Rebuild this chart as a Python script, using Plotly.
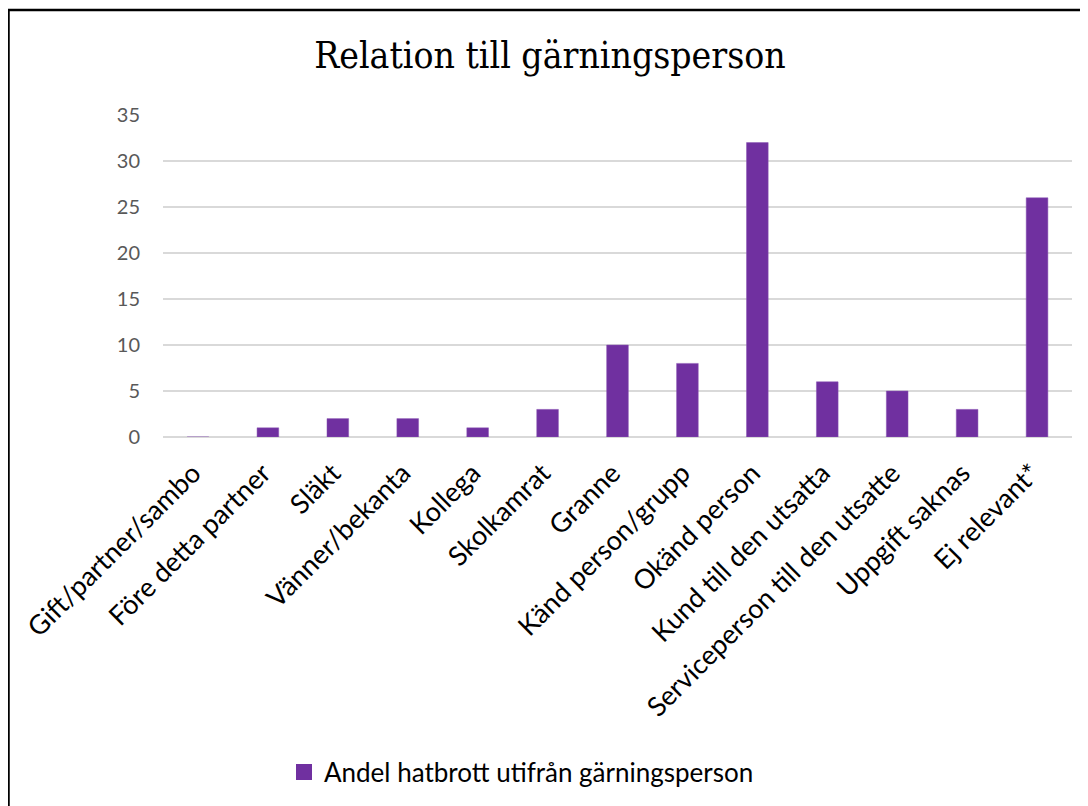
import plotly.graph_objects as go

categories = ["Gift/partner/sambo", "Före detta partner", "Släkt", "Vänner/bekanta",
              "Kollega", "Skolkamrat", "Granne", "Känd person/grupp", "Okänd person",
              "Kund till den utsatta", "Serviceperson till den utsatte", "Uppgift saknas",
              "Ej relevant*"]
values = [0, 1, 2, 2, 1, 3, 10, 8, 32, 6, 5, 3, 26]
series_name = "Andel hatbrott utifrån gärningsperson"
title_text = "Relation till gärningsperson"
y_ticks = [0, 5, 10, 15, 20, 25, 30, 35]

OFF = 8  # page body margin
W, H = 1088 - OFF, 806 - OFF
# plot area in reference pixel coordinates
PX0, PX1, PY0, PY1 = 163, 1072, 115, 437
L, R = PX0 - OFF, W - (PX1 - OFF)
T, B = PY0 - OFF, H - (PY1 - OFF)
PW, PH = PX1 - PX0, PY1 - PY0
BAR_COLOR = "#7030A0"

def px_x(p):
    return (p - PX0) / PW

def px_y(p):
    return (PY1 - p) / PH

fig = go.Figure()
fig.add_trace(go.Bar(
    x=categories, y=values, width=0.31,
    marker=dict(color=BAR_COLOR, line=dict(color="#8a55b5", width=0.5)),
    showlegend=False, name=series_name,
))
fig.add_trace(go.Scatter(
    x=[None], y=[None], mode="markers", name=series_name,
    marker=dict(symbol="square", size=16, color=BAR_COLOR),
    showlegend=True,
))

fig.update_layout(
    width=W, height=H,
    margin=dict(l=L, r=R, t=T, b=B, autoexpand=False),
    paper_bgcolor="white", plot_bgcolor="white",
    title=dict(text=title_text, x=(550 - OFF) / W, xanchor="center", xref="container",
               y=1 - (55 - OFF) / H, yanchor="middle", yref="container",
               font=dict(family="DejaVu Serif Condensed", size=37, color="black")),
    xaxis=dict(tickangle=-45, tickfont=dict(family="Lato", size=27, color="black"),
               showgrid=False, showline=False, ticks="", ticklen=0,
               ticklabelstandoff=14, ticklabelshift=-5,
               range=[-0.5, len(categories) - 0.5]),
    yaxis=dict(range=[0, 35], tickvals=y_ticks, showgrid=True, gridcolor="#D9D9D9",
               gridwidth=1.5, zeroline=True, zerolinecolor="#D9D9D9", zerolinewidth=1.5,
               tickfont=dict(family="Lato", size=20, color="#595959"),
               ticks="", ticklabelstandoff=22),
    legend=dict(orientation="h", x=px_x(284), xanchor="left", y=px_y(772), yanchor="middle",
                font=dict(family="Lato", size=26, color="black"),
                bgcolor="rgba(0,0,0,0)"),
    showlegend=True,
    shapes=[dict(type="rect", xref="paper", yref="paper",
                 x0=px_x(8.5), x1=px_x(1095), y0=px_y(813), y1=px_y(10),
                 line=dict(color="black", width=2.5), fillcolor="rgba(0,0,0,0)",
                 layer="above")],
)

fig.write_html("out.html")
